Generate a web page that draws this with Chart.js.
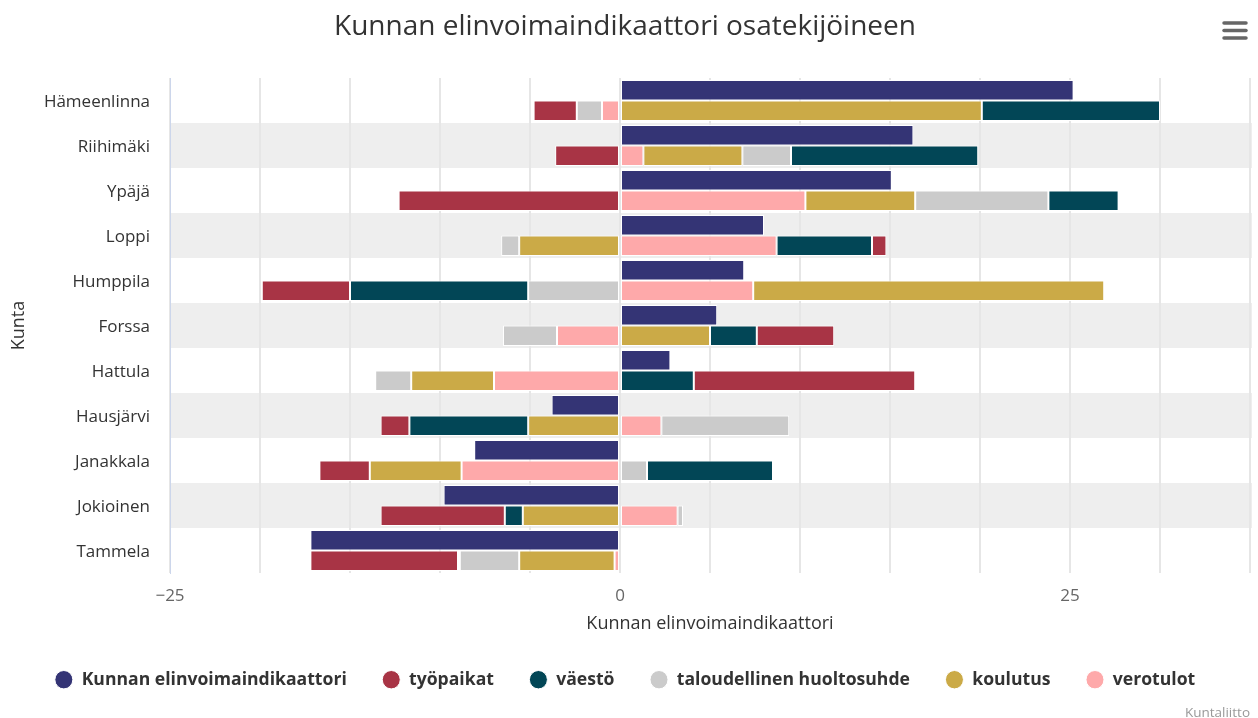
<!DOCTYPE html>
<html lang="fi">
<head>
<meta charset="utf-8">
<title>Kunnan elinvoimaindikaattori osatekijöineen</title>
<script src="https://cdn.jsdelivr.net/npm/chart.js@4.4.1/dist/chart.umd.min.js"></script>
<style>
  html, body { margin: 0; padding: 0; background: #fff; }
  #wrap { position: relative; width: 1258px; height: 718px; }
</style>
</head>
<body>
<div id="wrap"><canvas id="elinvoima-chart"></canvas></div>
<script>
/* ============================================================
   KUNNAN ELINVOIMAINDIKAATTORI — bar chart
   ============================================================ */

const kunnat = ['Hämeenlinna', 'Riihimäki', 'Ypäjä', 'Loppi', 'Humppila', 'Forssa',
                'Hattula', 'Hausjärvi', 'Janakkala', 'Jokioinen', 'Tammela'];

// total indicator (top bar of each row)
const indikaattori  = [25.2, 16.3, 15.1, 8.0, 6.9, 5.4, 2.8, -3.8, -8.1, -9.8, -17.2];

// components (bottom bar of each row)
const tyopaikat     = [-2.4, -3.6, -12.3, 0.8, -4.9, 4.3, 12.3, -1.6, -2.8, -6.9, -8.2];
const vaesto        = [9.9, 10.4, 3.9, 5.3, -9.9, 2.6, 4.1, -6.6, 7.0, -1.0, -0.1];
const huoltosuhde   = [-1.4, 2.7, 7.4, -1.0, -5.1, -3.0, -2.0, 7.1, 1.5, 0.3, -3.3];
const koulutus      = [20.1, 5.5, 6.1, -5.6, 19.5, 5.0, -4.6, -5.1, -5.1, -5.4, -5.3];
const verotulot     = [-1.0, 1.3, 10.3, 8.7, 7.4, -3.5, -7.0, 2.3, -8.8, 3.2, -0.3];

const xTickLabels = [-25, 0, 25];

const FONT = "'Open Sans', sans-serif";

document.addEventListener('DOMContentLoaded', () => {
  renderChart();
});

function formatTick(v) {
  return v < 0 ? '\u2212' + Math.abs(v) : String(v);
}

// alternating grey row bands behind the grid
const rowBands = {
  id: 'rowBands',
  beforeDraw(chart) {
    const { ctx, chartArea, scales: { y } } = chart;
    const step = y.getPixelForValue(1) - y.getPixelForValue(0);
    ctx.save();
    ctx.fillStyle = '#eeeeee';
    kunnat.forEach((k, i) => {
      if (i % 2 === 0) return;
      const c = y.getPixelForValue(i);
      ctx.fillRect(chartArea.left, c - step / 2, chartArea.right - chartArea.left + 2, step);
    });
    ctx.restore();
  },
};

// menu icon + credits text
const extras = {
  id: 'extras',
  afterDraw(chart) {
    const { ctx, width, height } = chart;
    ctx.save();
    ctx.strokeStyle = '#666';
    ctx.lineWidth = 3.5;
    ctx.lineCap = 'round';
    [23, 30.5, 38].forEach(yy => {
      ctx.beginPath();
      ctx.moveTo(width - 34, yy);
      ctx.lineTo(width - 12, yy);
      ctx.stroke();
    });
    ctx.fillStyle = '#999';
    ctx.font = `13.5px ${FONT}`;
    ctx.textAlign = 'right';
    ctx.textBaseline = 'middle';
    ctx.fillText('Kuntaliitto', width - 8, height - 5);
    ctx.restore();
  },
};

function renderChart() {
  const ctx = document.getElementById('elinvoima-chart');
  if (!ctx) return;

  const part = (label, data, color) => ({
    label, data, stack: 'osat',
    backgroundColor: color, borderColor: '#ffffff', borderWidth: 1, borderSkipped: false,
  });

  // stacking goes from zero outwards in this order
  const datasets = [
    { label: 'Kunnan elinvoimaindikaattori', data: indikaattori, stack: 'kokonais',
      backgroundColor: '#343475', borderColor: '#ffffff', borderWidth: 1, borderSkipped: false },
    part('verotulot', verotulot, '#fea9aa'),
    part('koulutus', koulutus, '#cbaa47'),
    part('taloudellinen huoltosuhde', huoltosuhde, '#cbcbcb'),
    part('väestö', vaesto, '#024656'),
    part('työpaikat', tyopaikat, '#a83445'),
  ];
  const n = datasets.length;

  new Chart(ctx, {
    type: 'bar',
    data: { labels: kunnat, datasets },
    plugins: [rowBands, extras],
    options: {
      indexAxis: 'y',
      responsive: true,
      maintainAspectRatio: false,
      animation: false,
      categoryPercentage: 0.91,
      barPercentage: 1.0,
      layout: { padding: { left: 0, right: 8, top: 0, bottom: 19.5 } },
      plugins: {
        title: {
          display: true,
          text: 'Kunnan elinvoimaindikaattori osatekijöineen',
          color: '#333333',
          font: { family: FONT, size: 28, weight: 'normal' },
          padding: { top: 10, bottom: 34.4 },
        },
        legend: {
          position: 'bottom',
          labels: {
            usePointStyle: true,
            pointStyle: 'circle',
            boxHeight: 13,
            pointStyleWidth: 18,
            padding: 35.5,
            color: '#333333',
            font: { family: FONT, size: 17.6, weight: 'bold' },
            sort: (a, b) => {
              const rank = i => (i === 0 ? 0 : n - i);
              return rank(a.datasetIndex) - rank(b.datasetIndex);
            },
          },
        },
        tooltip: { enabled: true },
      },
      scales: {
        x: {
          min: -25,
          max: 35,
          afterFit: (scale) => {
            scale.height = 62.4;
            scale.paddingLeft = 0;
            scale.paddingRight = 0;
          },
          grid: { color: '#e6e6e6', lineWidth: 2, drawTicks: false },
          border: { display: false },
          ticks: {
            stepSize: 5,
            autoSkip: false,
            maxRotation: 0,
            padding: 13,
            color: '#666666',
            font: { family: FONT, size: 17 },
            callback: (v) => (xTickLabels.includes(v) ? formatTick(v) : ''),
          },
          title: {
            display: true,
            text: 'Kunnan elinvoimaindikaattori',
            color: '#333333',
            font: { family: FONT, size: 18 },
            padding: { top: 0, bottom: 0.6 },
          },
        },
        y: {
          afterFit: (scale) => { scale.width = 170; },
          grid: { display: false, drawTicks: false },
          border: { display: true, color: '#ccd6eb', width: 1 },
          ticks: {
            padding: 20,
            labelOffset: 2,
            color: '#333333',
            font: { family: FONT, size: 17 },
          },
          title: {
            display: true,
            text: 'Kunta',
            color: '#333333',
            font: { family: FONT, size: 18 },
            padding: { top: 8, bottom: 0 },
          },
        },
      },
    },
  });
}
</script>
</body>
</html>
